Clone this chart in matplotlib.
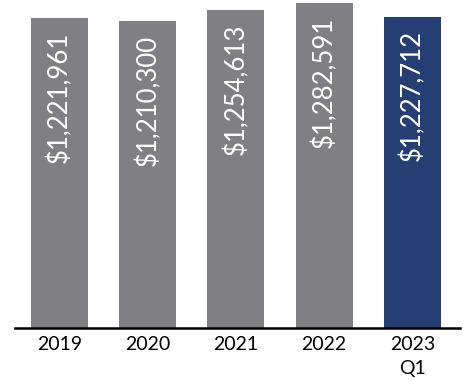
import matplotlib
matplotlib.use("Agg")
import matplotlib.pyplot as plt

# data
categories = ["2019", "2020", "2021", "2022", "2023\nQ1"]
values = [1221961, 1210300, 1254613, 1282591, 1227712]
bar_labels = ["$1,221,961", "$1,210,300", "$1,254,613", "$1,282,591", "$1,227,712"]

GRAY = "#808084"
NAVY = "#253f74"
colors = [GRAY, GRAY, GRAY, GRAY, NAVY]

plt.rcParams['font.family'] = ['Lato', 'DejaVu Sans']

fig = plt.figure(figsize=(4.64, 3.81), dpi=100)
# axes fills from top down to the baseline at ~328px
ax = fig.add_axes([15/464, 1 - 328/381, 445/464, 328/381])

xs = list(range(len(categories)))
ax.bar(xs, values, width=0.646, color=colors, zorder=2)

for x, v, lab in zip(xs, values, bar_labels):
    ax.annotate(lab.replace("$", r"\$"), xy=(x, v), xytext=(0, -10),
                textcoords="offset points", rotation=90,
                ha="center", va="top", color="white", fontsize=18.5)

ax.set_xlim(-0.504, 4.54)
ax.set_ylim(0, 1293000)
ax.set_xticks(xs)
ax.set_xticklabels(categories, fontsize=14, linespacing=1.45)
ax.tick_params(axis="x", length=0, pad=6)
ax.set_yticks([])
for side in ["top", "right", "left"]:
    ax.spines[side].set_visible(False)
ax.spines["bottom"].set_linewidth(1.8)
ax.spines["bottom"].set_color("black")
ax.patch.set_alpha(0)

fig.savefig("out.png", dpi=100)
